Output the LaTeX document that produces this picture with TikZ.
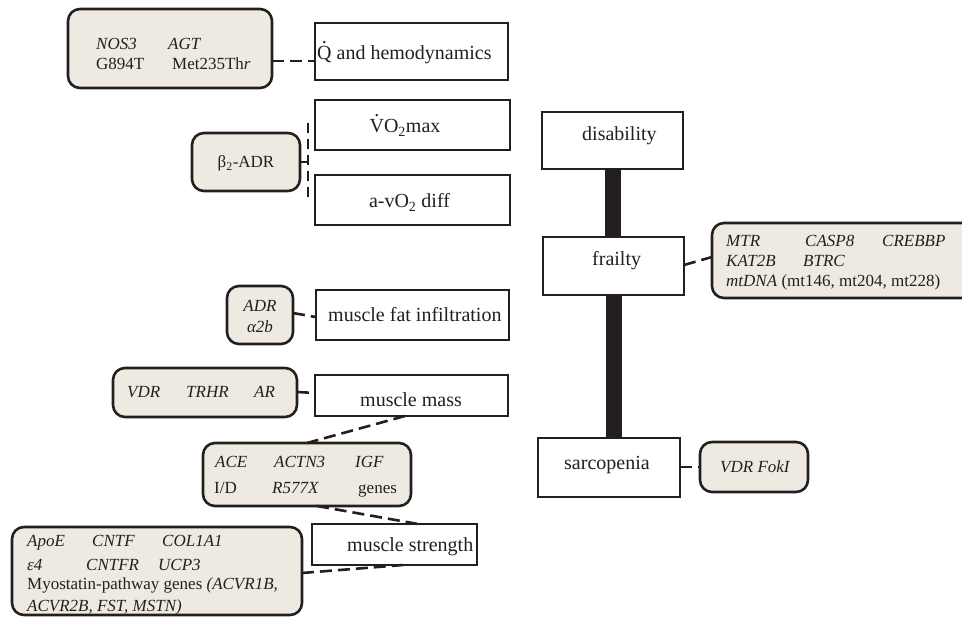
\documentclass[tikz,border=0pt]{standalone}
\usepackage{fontspec}
\setmainfont{Liberation Serif}
\usetikzlibrary{calc}
\definecolor{genefill}{HTML}{EEEAE1}
\definecolor{ink}{HTML}{231F20}
\newcommand\dotover[1]{\leavevmode\hbox{\ooalign{#1\cr\hidewidth\raisebox{0.8em}{.}\hidewidth\cr}}}
\tikzset{
  lbox/.style={draw=ink, line width=2pt, fill=white, inner sep=0pt, outer sep=0pt},
  gbox/.style={draw=ink, line width=2.6pt, fill=genefill, rounded corners=12pt, inner sep=0pt, outer sep=0pt},
  lab/.style={font=\fontsize{20}{24}\selectfont, inner sep=0pt, text=ink},
  gt/.style={font=\fontsize{17}{20}\selectfont\itshape, inner sep=0pt, anchor=base west, text=ink},
  gr/.style={font=\fontsize{17}{20}\selectfont, inner sep=0pt, anchor=base west, text=ink},
  conn/.style={draw=ink, line width=2.6pt, dash pattern=on 12pt off 6pt},
  bar/.style={draw=ink, line width=16pt}
}
\begin{document}
\begin{tikzpicture}[x=1pt,y=-1pt]
\useasboundingbox (0,0) rectangle (962,617);
\clip (0,0) rectangle (962,617);

% outcome boxes (left column)
\node[lbox, minimum width=193pt, minimum height=57pt] (q) at (411.5,51.5) {};
\node[lbox, minimum width=195pt, minimum height=50pt] (vo) at (412.5,125) {};
\node[lbox, minimum width=195pt, minimum height=50pt] (av) at (412.5,200) {};
\node[lbox, minimum width=193pt, minimum height=50pt] (fat) at (412,315) {};
\node[lbox, minimum width=193pt, minimum height=41pt] (mass) at (411.5,395.5) {};
\node[lbox, minimum width=165pt, minimum height=41pt] (str) at (394.5,544.5) {};

% outcome boxes (right column)
\node[lbox, minimum width=141pt, minimum height=57pt] (dis) at (612.5,140.5) {};
\node[lbox, minimum width=141pt, minimum height=58pt] (fra) at (613.5,266) {};
\node[lbox, minimum width=142pt, minimum height=59pt] (sar) at (609,467.5) {};

% thick bars
\draw[bar] ([xshift=0.5pt]dis.south) -- ([xshift=0.5pt]dis.south |- fra.north);
\draw[bar] (fra.south) -- (fra.south |- sar.north);

% gene boxes
\node[gbox, minimum width=204pt, minimum height=79pt] (nos) at (170,48.5) {};
\node[gbox, minimum width=108pt, minimum height=58pt] (b2) at (246,162) {};
\node[gbox, minimum width=66pt, minimum height=58pt] (adr) at (260,315) {};
\node[gbox, minimum width=184pt, minimum height=49pt] (vdr) at (205,392.5) {};
\node[gbox, minimum width=208pt, minimum height=63pt] (ace) at (307,474.5) {};
\node[gbox, minimum width=290pt, minimum height=88pt] (apoe) at (157,571) {};
\node[gbox, minimum width=263pt, minimum height=75pt] (frg) at (843.5,260.5) {};
\node[gbox, minimum width=108pt, minimum height=50pt] (fok) at (754,467) {};

% connectors
\draw[conn] ([yshift=-12.5pt]nos.east) -- ([yshift=-9.5pt]q.west);
\coordinate (bj) at ($(b2.east)+(8,0)$);
\draw[conn] (b2.east) -- (bj);
\draw[conn, dash pattern=on 10pt off 6pt] ($(bj)+(0,-39)$) -- ($(bj)+(0,40)$);
\draw[conn] ([yshift=2pt]adr.east) -- ([yshift=-2pt]fat.west);
\draw[conn] ([yshift=0.5pt]vdr.east) -- ([yshift=2.5pt]mass.west);
\draw[conn] ([xshift=-6.5pt]mass.south) -- ([xshift=0pt]ace.north);
\draw[conn] ([xshift=10pt]ace.south) -- ([xshift=23.5pt]str.north);
\draw[conn] ([yshift=-2pt]apoe.east) -- ([xshift=8.5pt]str.south);
\draw[conn] ([yshift=1pt]fra.east) -- ([yshift=3.5pt]frg.west);
\draw[conn] (sar.east |- fok.west) -- (fok.west);

% outcome labels
\node[lab, anchor=base west] (tq) at (317,60) {\dotover{Q} and hemodynamics};
\node[lab, anchor=base] (tvo) at (405,133) {\dotover{V}O\textsubscript{2}max};
\node[lab, anchor=base] (tav) at (409.5,208) {a-vO\textsubscript{2} diff};
\node[lab, anchor=base west] (tfat) at (328,322) {muscle fat infiltration};
\node[lab, anchor=base west] (tmass) at (360,407) {muscle mass};
\node[lab, anchor=base west] (tstr) at (347,551) {muscle strength};
\node[lab, anchor=base west] (tdis) at (582,141) {disability};
\node[lab, anchor=base west] (tfra) at (592,266) {frailty};
\node[lab, anchor=base west] (tsar) at (564,470) {sarcopenia};

% gene texts
\node[gt] (g1) at (96,50) {NOS3};
\node[gt] (g2) at (168,50) {AGT};
\node[gr] (g3) at (96,70) {G894T};
\node[gr] (g4) at (172,70) {Met235Th\textit{r}};
\node[gr, anchor=base] (g5) at (246,168) {β\textsubscript{2}-ADR};
\node[gt, anchor=base] (g6) at (260,312) {ADR};
\node[gt, anchor=base] (g7) at (260,333) {α2b};
\node[gt] (g8) at (127,398) {VDR};
\node[gt] (g9) at (186,398) {TRHR};
\node[gt] (g10) at (254,398) {AR};
\node[gt] (g11) at (215,468) {ACE};
\node[gt] (g12) at (274,468) {ACTN3};
\node[gt] (g13) at (355,468) {IGF};
\node[gr] (g14) at (214,494) {I/D};
\node[gt] (g15) at (272,494) {R577X};
\node[gr] (g16) at (358,494) {genes};
\node[gt] (g17) at (27,547) {ApoE};
\node[gt] (g18) at (92,547) {CNTF};
\node[gt] (g19) at (162,547) {COL1A1};
\node[gt] (g20) at (27,570) {ε4};
\node[gt] (g21) at (86,570) {CNTFR};
\node[gt] (g22) at (158,570) {UCP3};
\node[gr] (g23) at (27,590) {Myostatin-pathway genes \textit{(ACVR1B,}};
\node[gt] (g24) at (27,611) {ACVR2B, FST, MSTN)};
\node[gt] (g25) at (726,247) {MTR};
\node[gt] (g26) at (805,247) {CASP8};
\node[gt] (g27) at (882,247) {CREBBP};
\node[gt] (g28) at (726,267) {KAT2B};
\node[gt] (g29) at (803,267) {BTRC};
\node[gr] (g30) at (726,287) {\textit{mtDNA} (mt146, mt204, mt228)};
\node[gt] (g31) at (720,473) {VDR FokI};
\end{tikzpicture}
\end{document}
